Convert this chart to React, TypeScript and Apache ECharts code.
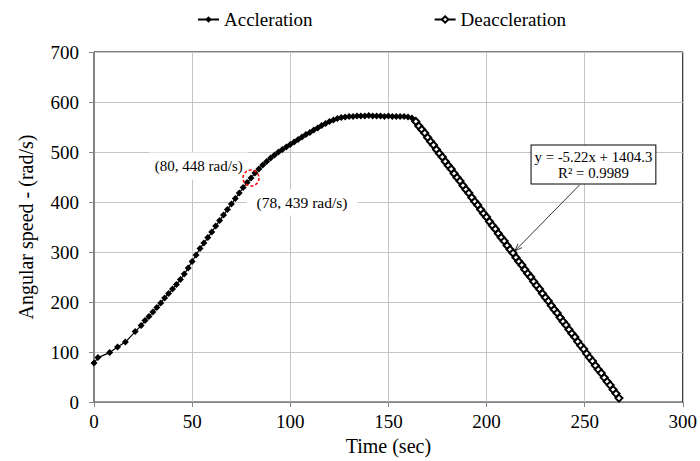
import React, { useEffect, useRef } from "react";
import * as echarts from "echarts";

const accelTime = [0, 2, 8, 12, 16, 21, 24, 26, 28, 30, 32, 34, 36, 38, 40, 42, 44, 46, 48, 50, 52, 54, 56, 58, 60, 62, 64, 66, 68, 70, 72, 74, 76, 78, 80, 82, 84, 86, 88, 90, 92, 94, 96, 98, 100, 102, 104, 106, 108, 110, 112, 114, 116, 118, 120, 122, 124, 126, 128, 130, 132, 134, 136, 138, 140, 142, 144, 146, 148, 150, 152, 154, 156, 158, 160, 162, 164];
const accelSpeed = [78, 89, 99, 110, 120, 141, 153, 163, 171, 180, 189, 198, 208, 217, 226, 235, 245, 256, 268, 281, 294, 307, 318, 329, 340, 352, 363, 374, 385, 396, 407, 418, 429, 439, 448, 458, 466, 474, 481, 488, 494, 500, 505, 510, 515, 520, 525, 530, 535, 539, 544, 548, 553, 557, 561, 564, 567, 569, 570, 571, 571, 572, 572, 572, 573, 572, 572, 572, 571, 572, 571, 571, 571, 571, 570, 568, 561];

const decelTime = [164, 165.5, 167, 168.5, 170, 171.5, 173, 174.5, 176, 177.5, 179, 180.5, 182, 183.5, 185, 186.5, 188, 189.5, 191, 192.5, 194, 195.5, 197, 198.5, 200, 201.5, 203, 204.5, 206, 207.5, 209, 210.5, 212, 213.5, 215, 216.5, 218, 219.5, 221, 222.5, 224, 225.5, 227, 228.5, 230, 231.5, 233, 234.5, 236, 237.5, 239, 240.5, 242, 243.5, 245, 246.5, 248, 249.5, 251, 252.5, 254, 255.5, 257, 258.5, 260, 261.5, 263, 264.5, 266, 267.5];
const decelSpeed = [561, 552, 545, 538, 529, 521, 514, 505, 497, 490, 481, 473, 466, 457, 449, 442, 433, 425, 418, 409, 401, 394, 385, 377, 370, 361, 353, 346, 337, 329, 322, 313, 305, 298, 289, 281, 274, 265, 257, 250, 241, 233, 226, 217, 209, 202, 193, 185, 178, 169, 161, 154, 145, 137, 130, 121, 113, 106, 97, 89, 82, 73, 65, 58, 49, 41, 34, 25, 17, 8];

const seriesNames = ["Accleration", "Deaccleration"];
const markedPoint = [80, 448];
const labelA = "(80, 448 rad/s)";
const labelB = "(78, 439 rad/s)";
const equationText = "y = -5.22x + 1404.3\nR² = 0.9989";

export default function App() {
  const ref = useRef<HTMLDivElement>(null);
  useEffect(() => {
    const chart = echarts.init(ref.current!, null, { renderer: "svg" });
    const font = "Liberation Serif";
    chart.setOption({
      animation: false,
      backgroundColor: "#fff",
      textStyle: { fontFamily: font, color: "#000" },
      legend: {
        left: 192,
        top: 5,
        itemWidth: 21,
        itemHeight: 8,
        itemGap: 121,
        textStyle: { fontFamily: font, fontSize: 19, color: "#000" },
        data: seriesNames,
      },
      grid: {
        left: 94,
        right: 16,
        top: 52,
        bottom: 56,
        show: true,
        borderColor: "#000",
        borderWidth: 1,
        backgroundColor: "transparent",
      },
      xAxis: {
        type: "value",
        min: 0,
        max: 300,
        interval: 50,
        name: "Time (sec)",
        nameLocation: "middle",
        nameGap: 32,
        nameTextStyle: { fontFamily: font, fontSize: 20, color: "#000" },
        axisLine: { show: true, lineStyle: { color: "#868686", width: 1 } },
        axisTick: { show: true, length: 5, lineStyle: { color: "#868686" } },
        axisLabel: { fontFamily: font, fontSize: 19, color: "#000", margin: 10 },
        splitLine: { show: true, lineStyle: { color: "#c4c4c4", width: 1 } },
      },
      yAxis: {
        type: "value",
        min: 0,
        max: 700,
        interval: 100,
        name: "Angular speed - (rad/s)",
        nameLocation: "middle",
        nameGap: 58,
        nameTextStyle: { fontFamily: font, fontSize: 20, color: "#000" },
        axisLine: { show: true, lineStyle: { color: "#868686", width: 1 } },
        axisTick: { show: true, length: 5, lineStyle: { color: "#868686" } },
        axisLabel: { fontFamily: font, fontSize: 19, color: "#000", margin: 15 },
        splitLine: { show: true, lineStyle: { color: "#c4c4c4", width: 1 } },
      },
      series: [
        {
          name: seriesNames[0],
          type: "line",
          data: accelTime.map((t, i) => [t, accelSpeed[i]]),
          symbol: "diamond",
          symbolSize: 7,
          itemStyle: { color: "#000" },
          lineStyle: { color: "#000", width: 1.2 },
          z: 3,
        },
        {
          name: seriesNames[1],
          type: "line",
          data: decelTime.map((t, i) => [t, decelSpeed[i]]),
          symbol: "emptyDiamond",
          symbolSize: 7,
          itemStyle: { color: "#000", borderColor: "#000", borderWidth: 1 },
          lineStyle: { color: "#000", width: 1.2 },
          z: 4,
        },
      ],
    });

    const px = (x: number, y: number) => chart.convertToPixel({ gridIndex: 0 }, [x, y]) as number[];
    const c = px(markedPoint[0], markedPoint[1]);
    const la = px(53.4, 472);
    const lb = px(106, 399);
    const eq = px(254.5, 475);
    const arrowStart = px(247.5, 434.5);
    const arrowTip = px(214.4, 302);
    const dx = arrowTip[0] - arrowStart[0];
    const dy = arrowTip[1] - arrowStart[1];
    const len = Math.sqrt(dx * dx + dy * dy);
    const ux = dx / len;
    const uy = dy / len;
    const hl = 8;
    const ang = 0.35;
    const h1 = [
      arrowTip[0] - hl * (ux * Math.cos(ang) - uy * Math.sin(ang)),
      arrowTip[1] - hl * (uy * Math.cos(ang) + ux * Math.sin(ang)),
    ];
    const h2 = [
      arrowTip[0] - hl * (ux * Math.cos(-ang) - uy * Math.sin(-ang)),
      arrowTip[1] - hl * (uy * Math.cos(-ang) + ux * Math.sin(-ang)),
    ];

    chart.setOption({
      graphic: [
        {
          type: "text",
          x: la[0],
          y: la[1],
          z: 1,
          style: {
            text: labelA,
            fontFamily: font,
            fontSize: 15,
            fill: "#000",
            align: "center",
            verticalAlign: "middle",
            backgroundColor: "#fff",
            padding: [6, 6],
          },
        },
        {
          type: "text",
          x: lb[0],
          y: lb[1],
          z: 1,
          style: {
            text: labelB,
            fontFamily: font,
            fontSize: 15.5,
            fill: "#000",
            align: "center",
            verticalAlign: "middle",
            backgroundColor: "#fff",
            padding: [5, 10],
          },
        },
        {
          type: "circle",
          z: 10,
          shape: { cx: c[0], cy: c[1], r: 8 },
          style: { fill: "none", stroke: "#ff0000", lineWidth: 1.5, lineDash: [3, 2] },
        },
        {
          type: "line",
          z: 5,
          shape: { x1: arrowStart[0], y1: arrowStart[1], x2: arrowTip[0], y2: arrowTip[1] },
          style: { stroke: "#000", lineWidth: 0.8 },
        },
        {
          type: "polyline",
          z: 5,
          shape: { points: [h1, arrowTip, h2] },
          style: { stroke: "#000", lineWidth: 0.8, fill: "none" },
        },
        {
          type: "text",
          x: eq[0],
          y: eq[1],
          z: 5,
          style: {
            text: equationText,
            fontFamily: font,
            fontSize: 14.8,
            lineHeight: 16,
            fill: "#000",
            align: "center",
            verticalAlign: "middle",
            backgroundColor: "#fff",
            borderColor: "#000",
            borderWidth: 1,
            padding: [3, 3],
          },
        },
      ],
    });
    return () => chart.dispose();
  }, []);
  return <div ref={ref} style={{ position: "absolute", left: 0, top: 0, width: 700, height: 461 }} />;
}
